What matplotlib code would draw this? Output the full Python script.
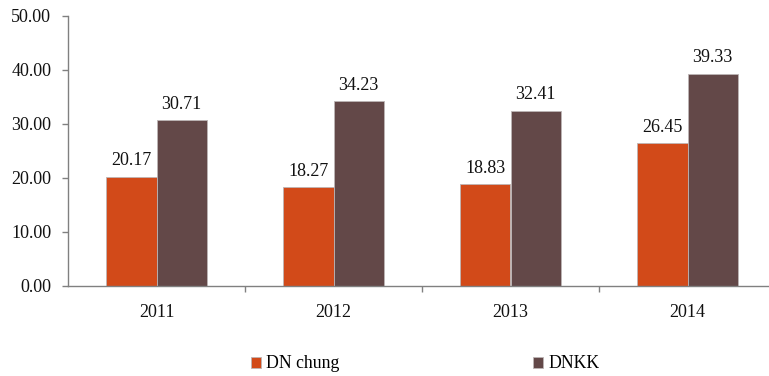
import matplotlib
matplotlib.use("Agg")
import matplotlib.pyplot as plt
import numpy as np

years = ["2011", "2012", "2013", "2014"]
dn_chung = [20.17, 18.27, 18.83, 26.45]
dnkk = [30.71, 34.23, 32.41, 39.33]
series_names = ["DN chung", "DNKK"]
colors = ["#D24A19", "#634848"]

plt.rcParams["font.family"] = ["Liberation Serif", "DejaVu Serif"]

W, H = 769, 376
fig = plt.figure(figsize=(W / 100, H / 100), dpi=100)
ax = fig.add_axes([68 / W, (H - 286) / H, 708 / W, 270 / H])

x = np.arange(len(years))
bw = 0.285
bars = []
for i, (vals, c) in enumerate(zip([dn_chung, dnkk], colors)):
    offs = (i - 0.5) * bw
    b = ax.bar(x + offs, vals, width=bw, color=c, edgecolor="#BDB5B5",
               linewidth=0.6, label=series_names[i])
    bars.append(b)
    for xi, v in zip(x + offs, vals):
        ax.annotate(f"{v:.2f}", (xi, v), xytext=(0, 5.5), textcoords="offset points",
                    ha="center", va="bottom", fontsize=13, color="#111111")

ax.set_xlim(-0.5, len(years) - 0.5)
ax.set_ylim(0, 50)
ax.set_yticks(np.arange(0, 51, 10))
ax.set_yticklabels([f"{v:.2f}" for v in np.arange(0, 51, 10)])
ax.set_xticks(x)
ax.set_xticklabels(years)
ax.set_xticks(np.arange(0.5, len(years), 1), minor=True)

for s in ["top", "right"]:
    ax.spines[s].set_visible(False)
for s in ["left", "bottom"]:
    ax.spines[s].set_color("#808080")
    ax.spines[s].set_linewidth(1.0)

ax.tick_params(axis="y", length=4, width=1, color="#808080", pad=8, labelsize=13,
               labelcolor="#111111")
ax.tick_params(axis="x", which="major", length=0, pad=13, labelsize=13,
               labelcolor="#111111")
ax.tick_params(axis="x", which="minor", length=4, width=1, color="#808080")

# legend entries placed below the plot
for b, name, xpos in zip(bars, series_names, [251, 533]):
    leg = fig.legend([b], [name], loc="center left",
                     bbox_to_anchor=(xpos / W, (H - 364) / H),
                     frameon=False, fontsize=12.8, borderpad=0, borderaxespad=0,
                     handlelength=0.55, handleheight=0.55, handletextpad=0.3)

fig.savefig("out.png", dpi=100)
